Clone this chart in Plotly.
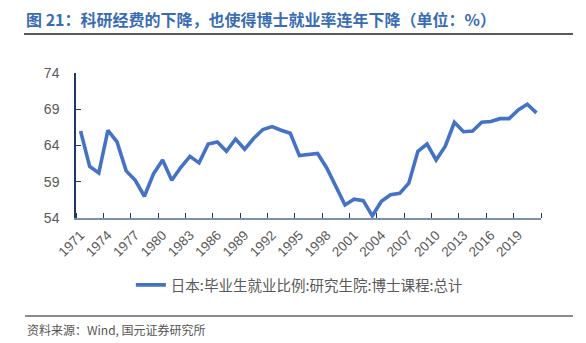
import plotly.graph_objects as go

# 日本：毕业生就业比例（研究生院·博士课程·总计），单位：%
years = list(range(1971, 2022))
employment_rate = [
    66.0, 61.1, 60.2, 66.1, 64.5, 60.5, 59.2, 57.0, 60.1, 62.0,
    59.2, 61.0, 62.5, 61.6, 64.2, 64.5, 63.2, 64.9, 63.5, 65.0,
    66.2, 66.6, 66.1, 65.7, 62.6, 62.8, 62.9, 60.9, 58.3, 55.8,
    56.6, 56.4, 54.3, 56.3, 57.2, 57.4, 58.8, 63.2, 64.2, 62.0,
    63.9, 67.2, 65.9, 66.0, 67.2, 67.3, 67.7, 67.7, 68.9, 69.7,
    68.5,
]
series_name = "日本:毕业生就业比例:研究生院:博士课程:总计"
title_text = "图 21：科研经费的下降，也使得博士就业率连年下降（单位：%）"
source_text = "资料来源：Wind, 国元证券研究所"

label_years = years[::3]                # 1971, 1974, ..., 2019
y_ticks = [54, 59, 64, 69, 74]
# tick marks sit between categories
boundaries = [years[0] - 0.5 + 3 * k for k in range(len(years) // 3 + 1)]

FONT = "Liberation Sans, Arial, Noto Sans CJK SC, sans-serif"
CJK = "Noto Sans CJK SC, sans-serif"
NAVY = "#1f3864"
GREY = "#595959"

fig = go.Figure()
fig.add_trace(go.Scatter(
    x=years, y=employment_rate, mode="lines", name=series_name,
    line=dict(color="#4472c4", width=3.6),
    showlegend=True,
))

fig.update_layout(
    width=586, height=343,
    margin=dict(l=76, r=45, t=73, b=125),
    paper_bgcolor="white", plot_bgcolor="white",
    font=dict(family=FONT, color=GREY),
    showlegend=True,
    legend=dict(
        orientation="h", x=0.118, xanchor="left", y=-0.462, yanchor="middle",
        font=dict(family=CJK, size=14.5, color=GREY),
        bgcolor="rgba(0,0,0,0)",
    ),
    xaxis=dict(
        range=[years[0] - 0.5, years[-1] + 0.5],
        tickmode="array", tickvals=label_years,
        ticktext=[str(y) for y in label_years],
        tickangle=-45, ticks="",
        tickfont=dict(size=13.5, color=GREY),
        ticklabelstandoff=2,
        showline=True, linecolor="#7f8fa9", linewidth=2,
        showgrid=False, zeroline=False,
        minor=dict(tickmode="array", tickvals=boundaries, ticks="inside",
                   ticklen=5, tickcolor=NAVY, tickwidth=1, showgrid=False),
    ),
    yaxis=dict(
        range=[54, 74], tickmode="array", tickvals=y_ticks,
        ticks="inside", ticklen=5, tickcolor=NAVY, tickwidth=1,
        tickfont=dict(size=14, color=GREY),
        ticklabelstandoff=12,
        showline=True, linecolor=NAVY, linewidth=1.5,
        showgrid=False, zeroline=False,
    ),
    title=dict(
        text=title_text, x=26 / 586, xanchor="left",
        xref="container", yref="container", y=1 - 20 / 343, yanchor="middle",
        font=dict(family=CJK, size=16, color="#3a6cb4", weight="bold"),
    ),
)

# rule under the title and above the source note
fig.add_shape(type="line", xref="paper", yref="paper",
              x0=(24 - 76) / 465, x1=(573 - 76) / 465,
              y0=(218 - 34) / 145, y1=(218 - 34) / 145,
              line=dict(color="#222222", width=1.5))
fig.add_shape(type="line", xref="paper", yref="paper",
              x0=(25 - 76) / 465, x1=(573 - 76) / 465,
              y0=(218 - 316) / 145, y1=(218 - 316) / 145,
              line=dict(color="#8c8c8c", width=2))

fig.add_annotation(
    text=source_text, xref="paper", yref="paper",
    x=(25 - 76) / 465, xanchor="left", y=(218 - 329) / 145, yanchor="middle",
    showarrow=False, font=dict(family=CJK, size=12, color="#555555"),
)

fig.write_html("out.html")
